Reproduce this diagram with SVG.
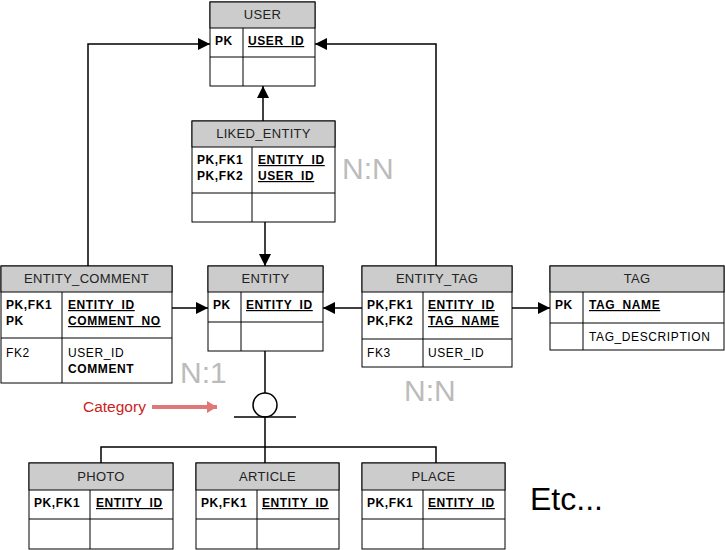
<svg xmlns="http://www.w3.org/2000/svg" width="725" height="550" viewBox="0 0 725 550">
<defs>
<marker id="ah" markerWidth="12" markerHeight="12" refX="12" refY="6" orient="auto" markerUnits="userSpaceOnUse"><path d="M0,0 L12,6 L0,12 z" fill="#000"/></marker>
<marker id="ahr" markerWidth="10" markerHeight="12" refX="10" refY="6" orient="auto" markerUnits="userSpaceOnUse"><path d="M0,0 L10,6 L0,12 z" fill="#e07878"/></marker>
</defs>
<style>
.box{fill:#fff;stroke:#000;stroke-width:1}
.hd{fill:#cccccc;stroke:#000;stroke-width:1}
.ln{stroke:#000;stroke-width:1;fill:none}
.ht{font-family:"Liberation Sans",Arial,sans-serif;font-size:13px;fill:#222;text-anchor:middle;letter-spacing:0.3px}
.b{font-family:"Liberation Sans",Arial,sans-serif;font-size:12px;font-weight:bold;fill:#000;letter-spacing:0.6px}
.n{font-family:"Liberation Sans",Arial,sans-serif;font-size:12px;fill:#000;letter-spacing:0.6px}
.u{text-decoration:underline}
.card{font-family:"Liberation Sans",Arial,sans-serif;font-size:30px;fill:#bbbbbb}
.con{stroke:#000;stroke-width:1.5;fill:none}
</style>
<g id="connectors">
<path class="con" d="M88,266 V44 H210" marker-end="url(#ah)"/>
<path class="con" d="M436,266 V44 H315" marker-end="url(#ah)"/>
<path class="con" d="M263,121 V86" marker-end="url(#ah)"/>
<path class="con" d="M265,222 V266" marker-end="url(#ah)"/>
<path class="con" d="M172,308 H208" marker-end="url(#ah)"/>
<path class="con" d="M362,308 H323" marker-end="url(#ah)"/>
<path class="con" d="M512,308 H550" marker-end="url(#ah)"/>
<path class="con" d="M265,351 V393"/>
<circle cx="265" cy="405" r="12" fill="#fff" stroke="#000" stroke-width="1.5"/>
<path class="con" d="M234,417 H296"/>
<path class="con" d="M265,417 V447 M101,463 V447 H436 V463 M265,447 V463"/>
</g>
<g id="USER">
<rect class="box" x="210" y="2" width="105" height="84"/>
<rect class="hd" x="210" y="2" width="105" height="26"/>
<path class="ln" d="M210,57 H315 M243,28 V86"/>
<text class="ht" x="262.5" y="19">USER</text>
<text class="b" x="215" y="45">PK</text>
<text class="b u" x="248" y="45">USER_ID</text>
</g>
<g id="LIKED_ENTITY">
<rect class="box" x="192" y="121" width="143" height="101"/>
<rect class="hd" x="192" y="121" width="143" height="26"/>
<path class="ln" d="M192,193 H335 M252,147 V222"/>
<text class="ht" x="263.5" y="138">LIKED_ENTITY</text>
<text class="b" x="197" y="164">PK,FK1</text>
<text class="b" x="197" y="180">PK,FK2</text>
<text class="b u" x="258" y="164">ENTITY_ID</text>
<text class="b u" x="258" y="180">USER_ID</text>
</g>
<g id="ENTITY_COMMENT">
<rect class="box" x="1" y="266" width="171" height="117"/>
<rect class="hd" x="1" y="266" width="171" height="26"/>
<path class="ln" d="M1,338 H172 M62,292 V383"/>
<text class="ht" x="86.5" y="283">ENTITY_COMMENT</text>
<text class="b" x="6" y="309">PK,FK1</text>
<text class="b" x="6" y="325">PK</text>
<text class="b u" x="68" y="309">ENTITY_ID</text>
<text class="b u" x="68" y="325">COMMENT_NO</text>
<text class="n" x="6" y="357">FK2</text>
<text class="n" x="68" y="357">USER_ID</text>
<text class="b" x="68" y="373">COMMENT</text>
</g>
<g id="ENTITY">
<rect class="box" x="208" y="266" width="115" height="85"/>
<rect class="hd" x="208" y="266" width="115" height="26"/>
<path class="ln" d="M208,322 H323 M241,292 V351"/>
<text class="ht" x="265.5" y="283">ENTITY</text>
<text class="b" x="213" y="309">PK</text>
<text class="b u" x="246" y="309">ENTITY_ID</text>
</g>
<g id="ENTITY_TAG">
<rect class="box" x="362" y="266" width="150" height="101"/>
<rect class="hd" x="362" y="266" width="150" height="26"/>
<path class="ln" d="M362,339 H512 M423,292 V367"/>
<text class="ht" x="437" y="283">ENTITY_TAG</text>
<text class="b" x="367" y="309">PK,FK1</text>
<text class="b" x="367" y="325">PK,FK2</text>
<text class="b u" x="428" y="309">ENTITY_ID</text>
<text class="b u" x="428" y="325">TAG_NAME</text>
<text class="n" x="367" y="357">FK3</text>
<text class="n" x="428" y="357">USER_ID</text>
</g>
<g id="TAG">
<rect class="box" x="550" y="266" width="174" height="84"/>
<rect class="hd" x="550" y="266" width="174" height="26"/>
<path class="ln" d="M550,323 H724 M583,292 V350"/>
<text class="ht" x="637" y="283">TAG</text>
<text class="b" x="555" y="309">PK</text>
<text class="b u" x="589" y="309">TAG_NAME</text>
<text class="n" x="589" y="341">TAG_DESCRIPTION</text>
</g>
<g id="PHOTO">
<rect class="box" x="29" y="463" width="144" height="86"/>
<rect class="hd" x="29" y="463" width="144" height="27"/>
<path class="ln" d="M29,519 H173 M90,490 V549"/>
<text class="ht" x="101" y="481">PHOTO</text>
<text class="b" x="34" y="507">PK,FK1</text>
<text class="b u" x="96" y="507">ENTITY_ID</text>
</g>
<g id="ARTICLE">
<rect class="box" x="196" y="463" width="143" height="86"/>
<rect class="hd" x="196" y="463" width="143" height="27"/>
<path class="ln" d="M196,519 H339 M257,490 V549"/>
<text class="ht" x="267.5" y="481">ARTICLE</text>
<text class="b" x="201" y="507">PK,FK1</text>
<text class="b u" x="262" y="507">ENTITY_ID</text>
</g>
<g id="PLACE">
<rect class="box" x="362" y="463" width="143" height="86"/>
<rect class="hd" x="362" y="463" width="143" height="27"/>
<path class="ln" d="M362,519 H505 M423,490 V549"/>
<text class="ht" x="433.5" y="481">PLACE</text>
<text class="b" x="367" y="507">PK,FK1</text>
<text class="b u" x="428" y="507">ENTITY_ID</text>
</g>
<g id="labels">
<text class="card" x="342" y="179">N:N</text>
<text class="card" x="180" y="383">N:1</text>
<text class="card" x="404" y="401">N:N</text>
<text x="83" y="412" font-family="'Liberation Sans',Arial,sans-serif" font-size="15.5" fill="#cc2222">Category</text>
<path d="M152,407 H217" stroke="#e07878" stroke-width="4" marker-end="url(#ahr)"/>
<text x="530" y="510" font-family="'Liberation Sans',Arial,sans-serif" font-size="32" fill="#000">Etc...</text>
</g>
</svg>
